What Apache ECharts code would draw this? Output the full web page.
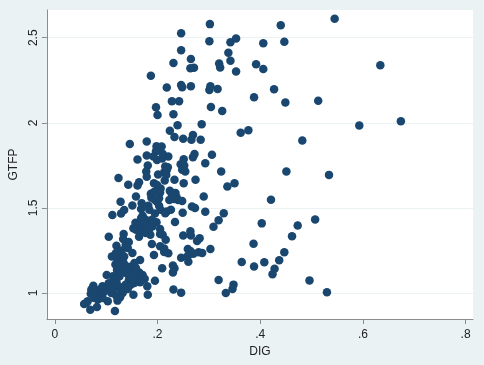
<!DOCTYPE html>
<html>
<head>
<meta charset="utf-8">
<script src="https://cdn.jsdelivr.net/npm/echarts@6/dist/echarts.min.js"></script>
<style>
  html, body { margin: 0; padding: 0; background: #eaf2f3; }
  #chart { width: 484px; height: 365px; }
</style>
</head>
<body>
<div id="chart"></div>
<script>
// DIG / GTFP
const dig = [
  0.545, 0.302, 0.440, 0.246, 0.353, 0.342, 0.301, 0.406, 0.447, 0.246,
  0.338, 0.265, 0.342, 0.231, 0.320, 0.392, 0.634, 0.322, 0.264, 0.271,
  0.406, 0.353, 0.187, 0.246, 0.248, 0.265, 0.218, 0.303, 0.301, 0.317,
  0.427, 0.388, 0.228, 0.242, 0.513, 0.449, 0.197, 0.304, 0.326, 0.200,
  0.231, 0.674, 0.286, 0.239, 0.593, 0.224, 0.377, 0.362, 0.269, 0.233,
  0.250, 0.266, 0.284, 0.482, 0.146, 0.179, 0.198, 0.208, 0.197, 0.203,
  0.272, 0.306, 0.179, 0.221, 0.269, 0.209, 0.161, 0.251, 0.293, 0.181,
  0.220, 0.245, 0.252, 0.248, 0.254, 0.324, 0.451, 0.178, 0.213, 0.218,
  0.201, 0.534, 0.179, 0.124, 0.214, 0.233, 0.274, 0.164, 0.350, 0.143,
  0.193, 0.251, 0.161, 0.199, 0.206, 0.336, 0.224, 0.205, 0.228, 0.158,
  0.290, 0.188, 0.195, 0.223, 0.240, 0.248, 0.199, 0.128, 0.421, 0.169,
  0.151, 0.182, 0.203, 0.267, 0.273, 0.135, 0.168, 0.218, 0.226, 0.195,
  0.249, 0.293, 0.329, 0.112, 0.129, 0.171, 0.177, 0.319, 0.507, 0.234,
  0.198, 0.403, 0.157, 0.163, 0.180, 0.309, 0.473, 0.153, 0.171, 0.205,
  0.183, 0.264, 0.165, 0.134, 0.205, 0.186, 0.250, 0.265, 0.105, 0.164,
  0.462, 0.133, 0.282, 0.277, 0.144, 0.138, 0.189, 0.387, 0.120, 0.142,
  0.205, 0.213, 0.259, 0.303, 0.130, 0.151, 0.213, 0.221, 0.264, 0.280,
  0.270, 0.447, 0.124, 0.193, 0.111, 0.129, 0.246, 0.122, 0.166, 0.260,
  0.364, 0.408, 0.437, 0.134, 0.118, 0.388, 0.149, 0.230, 0.131, 0.209,
  0.233, 0.428, 0.121, 0.145, 0.164, 0.230, 0.101, 0.171, 0.424, 0.158,
  0.175, 0.144, 0.120, 0.195, 0.319, 0.496, 0.166, 0.105, 0.138, 0.348,
  0.180, 0.075, 0.124, 0.088, 0.101, 0.346, 0.231, 0.095, 0.110, 0.246,
  0.333, 0.530, 0.070, 0.079, 0.119, 0.153, 0.181, 0.127, 0.103, 0.122,
  0.064, 0.057, 0.082, 0.069, 0.117,
  0.071, 0.081, 0.087, 0.093, 0.106, 0.113, 0.093, 0.084, 0.077, 0.061,
  0.113, 0.116, 0.129, 0.132, 0.142, 0.148, 0.155, 0.145, 0.155, 0.139,
  0.126, 0.113, 0.119, 0.126, 0.135, 0.140, 0.127, 0.155, 0.158, 0.161,
  0.152, 0.139, 0.168, 0.174, 0.177, 0.190, 0.158, 0.171, 0.192, 0.199,
  0.210, 0.215, 0.217, 0.235, 0.237, 0.232, 0.187, 0.193, 0.203, 0.206,
  0.215, 0.184, 0.189, 0.210, 0.216, 0.258, 0.261, 0.287
];
const gtfp = [
  2.612, 2.580, 2.574, 2.527, 2.496, 2.473, 2.479, 2.467, 2.477, 2.426,
  2.412, 2.375, 2.365, 2.352, 2.348, 2.344, 2.338, 2.325, 2.320, 2.324,
  2.316, 2.301, 2.277, 2.222, 2.209, 2.215, 2.207, 2.215, 2.193, 2.199,
  2.197, 2.150, 2.127, 2.127, 2.130, 2.119, 2.091, 2.093, 2.070, 2.046,
  2.050, 2.009, 1.992, 1.986, 1.984, 1.954, 1.956, 1.941, 1.929, 1.917,
  1.906, 1.900, 1.900, 1.896, 1.876, 1.890, 1.862, 1.861, 1.833, 1.843,
  1.816, 1.812, 1.808, 1.802, 1.798, 1.790, 1.784, 1.786, 1.763, 1.749,
  1.739, 1.757, 1.749, 1.724, 1.714, 1.714, 1.714, 1.714, 1.710, 1.722,
  1.696, 1.694, 1.683, 1.675, 1.661, 1.665, 1.665, 1.651, 1.645, 1.636,
  1.645, 1.645, 1.632, 1.634, 1.614, 1.626, 1.600, 1.591, 1.579, 1.567,
  1.567, 1.559, 1.546, 1.546, 1.546, 1.540, 1.536, 1.536, 1.548, 1.528,
  1.514, 1.512, 1.512, 1.508, 1.499, 1.487, 1.493, 1.479, 1.489, 1.467,
  1.471, 1.477, 1.469, 1.458, 1.467, 1.454, 1.430, 1.428, 1.432, 1.417,
  1.415, 1.409, 1.413, 1.399, 1.405, 1.389, 1.397, 1.381, 1.381, 1.376,
  1.372, 1.362, 1.364, 1.346, 1.346, 1.342, 1.338, 1.338, 1.331, 1.331,
  1.334, 1.317, 1.321, 1.305, 1.299, 1.282, 1.288, 1.289, 1.278, 1.264,
  1.274, 1.262, 1.258, 1.258, 1.250, 1.235, 1.241, 1.233, 1.246, 1.239,
  1.231, 1.239, 1.227, 1.223, 1.215, 1.205, 1.207, 1.190, 1.194, 1.184,
  1.182, 1.180, 1.192, 1.176, 1.168, 1.156, 1.155, 1.162, 1.147, 1.145,
  1.145, 1.143, 1.135, 1.127, 1.121, 1.121, 1.106, 1.106, 1.110, 1.098,
  1.084, 1.074, 1.066, 1.072, 1.076, 1.074, 1.063, 1.057, 1.049, 1.049,
  1.039, 1.043, 1.039, 1.020, 1.023, 1.023, 1.020, 1.004, 1.000, 1.002,
  1.000, 1.004, 0.996, 0.988, 0.986, 0.990, 0.990, 0.975, 0.951, 0.955,
  0.951, 0.935, 0.918, 0.902, 0.894,
  1.020, 1.010, 0.980, 1.039, 1.039, 1.020, 0.971, 0.961, 0.971, 0.941,
  1.068, 1.049, 1.020, 1.000, 1.023, 1.049, 1.059, 1.098, 1.117, 1.117,
  1.098, 1.098, 1.235, 1.166, 1.215, 1.156, 1.127, 1.176, 1.147, 1.078,
  1.078, 1.141, 1.440, 1.395, 1.352, 1.391, 1.372, 1.362, 1.802, 1.782,
  1.818, 1.743, 1.694, 1.587, 1.563, 1.552, 1.583, 1.593, 1.557, 1.489,
  1.469, 1.489, 1.430, 1.342, 1.313, 1.215, 1.225, 1.235
];
const xTicks = [0, 0.2, 0.4, 0.6, 0.8];
const yTicks = [1, 1.5, 2, 2.5];

const chart = echarts.init(document.getElementById('chart'));
const font = 'Liberation Sans, Arial, sans-serif';
const axisGray = '#8c8c8c';

chart.setOption({
  backgroundColor: '#eaf2f3',
  animation: false,
  grid: {
    left: 44, right: 11, top: 10, bottom: 46,
    show: true,
    backgroundColor: '#ffffff',
    borderWidth: 0
  },
  xAxis: {
    type: 'value',
    min: -0.0155,
    max: 0.8145,
    name: 'DIG',
    nameLocation: 'middle',
    nameGap: 24,
    nameTextStyle: { color: '#222', fontSize: 12, fontFamily: font },
    axisLine: { show: true, onZero: false, lineStyle: { color: axisGray } },
    axisTick: { show: true, length: 5, customValues: xTicks, lineStyle: { color: axisGray } },
    axisLabel: {
      customValues: xTicks,
      margin: 10,
      color: '#222',
      fontSize: 12,
      fontFamily: font,
      formatter: v => (v === 0 ? '0' : String(+v.toFixed(1)).replace(/^0/, ''))
    },
    splitLine: { show: false }
  },
  yAxis: {
    type: 'value',
    min: 0.847,
    max: 2.663,
    name: 'GTFP',
    nameLocation: 'middle',
    nameGap: 26,
    nameTextStyle: { color: '#222', fontSize: 12, fontFamily: font },
    axisLine: { show: true, onZero: false, lineStyle: { color: axisGray } },
    axisTick: { show: true, length: 5, customValues: yTicks, lineStyle: { color: axisGray } },
    axisLabel: {
      customValues: yTicks,
      rotate: 90,
      margin: 7,
      color: '#222',
      fontSize: 12,
      fontFamily: font,
      formatter: v => String(v)
    },
    splitLine: { show: true, lineStyle: { color: '#eaf2f3', width: 1 } }
  },
  series: [{
    type: 'scatter',
    symbolSize: 8.5,
    itemStyle: { color: '#1a476f', opacity: 1 },
    data: dig.map((d, i) => [d, gtfp[i]])
  }]
});
</script>
</body>
</html>
